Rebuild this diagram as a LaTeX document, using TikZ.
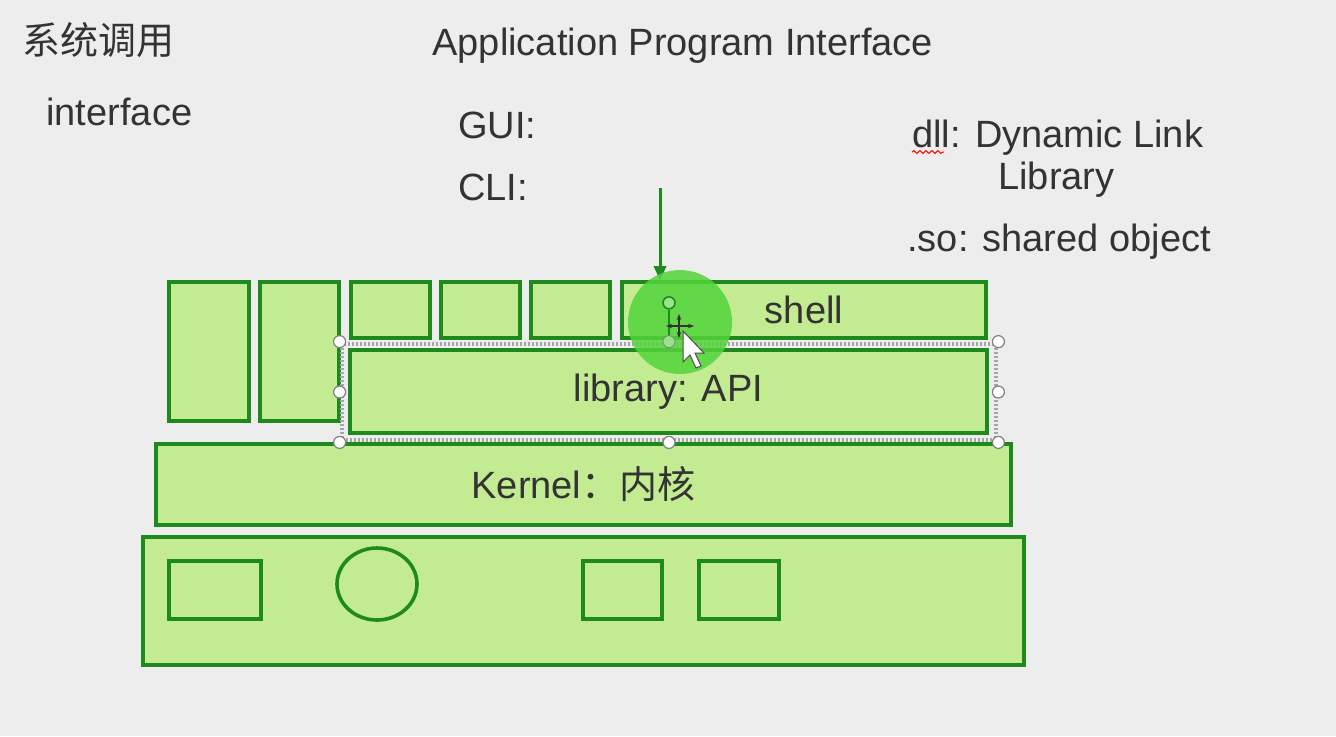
\documentclass[tikz,border=0pt]{standalone}
\usepackage{fontspec}
\setmainfont{Liberation Sans}
\newfontfamily\cjk{Noto Sans CJK SC}
\usetikzlibrary{shapes.geometric,decorations.pathmorphing,arrows.meta}

\definecolor{bg}{HTML}{EDEDED}
\definecolor{boxfill}{HTML}{C3EC92}
\definecolor{boxline}{HTML}{1E8A1E}
\definecolor{hilite}{HTML}{52D43A}
\definecolor{ink}{HTML}{333333}

\tikzset{
  blk/.style={draw=boxline, fill=boxfill, line width=1.8pt, inner sep=0pt, text=ink,
    font=\fontsize{19pt}{23pt}\selectfont},
  lbl/.style={anchor=base west, inner sep=0pt, text=ink, font=\fontsize{19pt}{23pt}\selectfont},
  handle/.style={circle, draw=gray, fill=white, minimum size=6pt, inner sep=0pt, line width=0.6pt}
}

\begin{document}
\begin{tikzpicture}[x=0.5pt,y=-0.5pt]
\fill[bg] (0,0) rectangle (1336,736);
\useasboundingbox (0,0) rectangle (1336,736);

% texts
\node[lbl] (syscall) at (22,54) {\cjk 系统调用};
\node[lbl] (api) at (432,55) {Application Program Interface};
\node[lbl] (iface) at (46,125) {interface};
\node[lbl] (gui) at (458,138) {GUI:};
\node[lbl] (cli) at (458,200) {CLI:};
\node[lbl] (dll) at (912,147) {dll: Dynamic Link};
\node[lbl] (dlib) at (998,189) {Library};
\node[lbl] (so) at (907,251) {.so: shared object};
\draw[red, line width=0.5pt, decorate, decoration={snake, segment length=3pt, amplitude=0.7pt}]
  ([yshift=-2.5pt]dll.base west) -- ++(32,0);

% hardware
\node[blk, minimum width=440.5pt, minimum height=64pt] (hw) at (583.5,601) {};
\node[blk, minimum width=46pt, minimum height=29pt] (dev1) at (215,590) {};
\node[blk, ellipse, minimum width=40pt, minimum height=36pt] (dev2) at (377,584) {};
\node[blk, minimum width=39.5pt, minimum height=29pt] (dev3) at (622.5,590) {};
\node[blk, minimum width=40pt, minimum height=29pt] (dev4) at (739,590) {};

% kernel
\node[blk, minimum width=427.5pt, minimum height=40.5pt] (kernel) at (583.5,484.5) {Kernel{\cjk ：内核}};

% applications
\node[blk, minimum width=40pt, minimum height=69.5pt] (app1) at (209,351.5) {};
\node[blk, minimum width=39.5pt, minimum height=69.5pt] (app2) at (299.5,351.5) {};
\node[blk, minimum width=39.5pt, minimum height=28pt] (app3) at (390.5,310) {};
\node[blk, minimum width=39.5pt, minimum height=28pt] (app4) at (480.5,310) {};
\node[blk, minimum width=39.5pt, minimum height=28pt] (app5) at (570.5,310) {};
\node[blk, minimum width=182pt, minimum height=28pt] (shell) at (804,310) {shell};
\node[blk, minimum width=318.5pt, minimum height=41.5pt] (lib) at (668.5,391.5) {library: API};

\coordinate (arrtop) at (660,188);
\draw[boxline, line width=1.5pt, -{Triangle[length=7pt,width=6pt]}] (arrtop) -- (arrtop |- shell.north);

% selection frame
\node[draw=gray!70, line width=2.4pt, dash pattern=on 1.2pt off 0.8pt, minimum width=327pt, minimum height=48pt] (sel) at (669,392) {};
\fill[hilite, opacity=0.85] (680,322) circle (26pt);
\draw[boxline, line width=0.8pt] (sel.north) -- ++(0,-32) node[circle, fill=hilite!60!white, draw=boxline, minimum size=6pt, inner sep=0pt, anchor=south] (rot) {};
\foreach \a in {north west,north east,east,south east,south,south west,west}
  \node[handle] at (sel.\a) {};
\node[circle, fill=hilite!60!white, draw=gray, minimum size=6pt, inner sep=0pt] at (sel.north) {};

% cursor
\draw[black!80, line width=1pt, <->, >={Stealth[length=3pt]}] (666,326) -- (694,326);
\draw[black!80, line width=1pt, <->, >={Stealth[length=3pt]}] (679,314) -- (679,338);
\filldraw[fill=white, draw=black!70, line width=0.5pt] (683,331) -- (683,362) -- (690,355) -- (696,368) -- (701,366) -- (695,353) -- (704,353) -- cycle;
\end{tikzpicture}
\end{document}
